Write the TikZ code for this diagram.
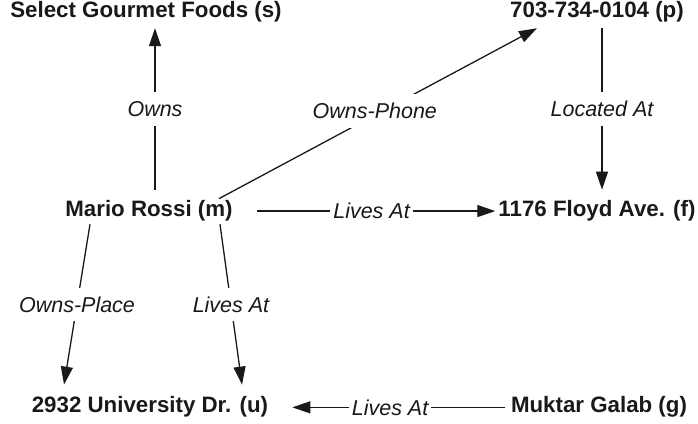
\documentclass[tikz,border=0pt]{standalone}
\usepackage{fontspec}
\setmainfont{Liberation Sans}
\usetikzlibrary{arrows.meta}
\begin{document}
\begin{tikzpicture}[x=1pt,y=-1pt,
  ent/.style={font=\fontsize{22.3}{26}\selectfont\bfseries, inner sep=0pt, anchor=base, text=black!90},
  lbl/.style={font=\fontsize{21.5}{26}\selectfont\itshape, fill=white, text=black!90, inner xsep=3pt, inner ysep=9pt, text height=15.4pt, text depth=0pt},
  rel/.style={line width=1.3pt, draw=black!90},
  arr/.style={rel, -{Triangle[length=18pt,width=12pt]}}]
\useasboundingbox (0,0) rectangle (698,423);
\node[ent] (s) at (146,17) {Select Gourmet Foods (s)};
\node[ent] (p) at (597,17) {703-734-0104 (p)};
\node[ent] (m) at (149,216) {Mario Rossi (m)};
\node[ent] (f) at (597,216) {1176 Floyd Ave. (f)};
\node[ent] (u) at (150,412) {2932 University Dr. (u)};
\node[ent] (g) at (599,412) {Muktar Galab (g)};

\draw[arr] ([xshift=6pt,yshift=10pt]m.north) -- node[lbl]{Owns} ([xshift=9pt,yshift=-6.4pt]s.south);
\draw[arr] ([xshift=70pt,yshift=1pt]m.north) -- node[lbl,pos=0.49,yshift=4pt]{Owns-Phone} ([xshift=-60pt,yshift=-6.4pt]p.south);
\draw[arr] ([xshift=5pt,yshift=-6.4pt]p.south) -- node[lbl]{Located At} ([xshift=5pt,yshift=10pt]f.north);
\draw[arr] ([xshift=24.5pt,yshift=2.3pt]m.mid east) -- node[lbl,pos=0.48]{Lives At} ([xshift=-3pt,yshift=2.3pt]f.mid west);
\draw[arr] ([xshift=-59pt,yshift=-3.4pt]m.south) -- node[lbl]{Owns-Place} ([xshift=-86pt,yshift=11pt]u.north);
\draw[arr] ([xshift=71pt,yshift=-3.4pt]m.south) -- node[lbl]{Lives At} ([xshift=92pt,yshift=11pt]u.north);
\draw[arr] ([xshift=-6pt,yshift=2pt]g.mid west) -- node[lbl,pos=0.54]{Lives At} ([xshift=24pt,yshift=2pt]u.mid east);
\end{tikzpicture}
\end{document}
